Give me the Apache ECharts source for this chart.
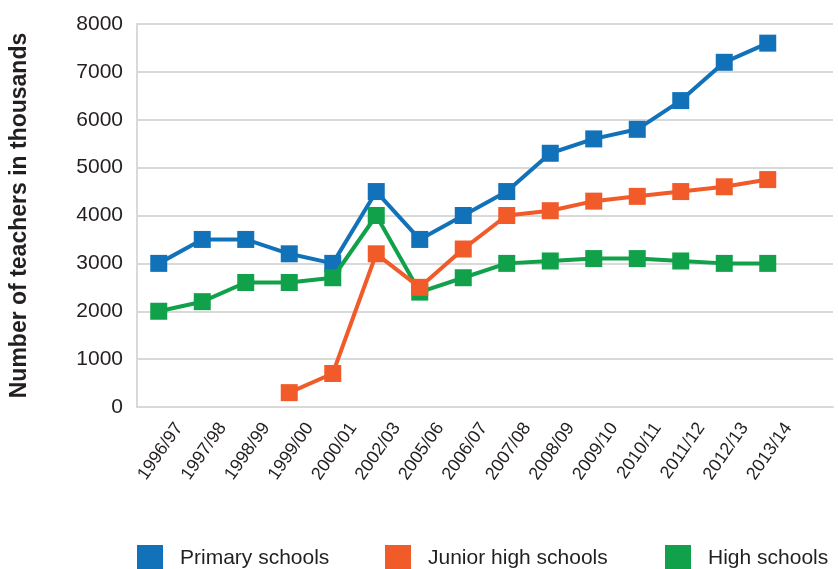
<!DOCTYPE html>
<html>
<head>
<meta charset="utf-8">
<script src="https://cdn.jsdelivr.net/npm/echarts@6/dist/echarts.min.js"></script>
<style>
  html, body { margin: 0; padding: 0; background: #fff; }
  #chart { width: 838px; height: 569px; }
</style>
</head>
<body>
<div id="chart"></div>
<script>
// School years on the category axis (last slot left empty for spacing)
const years = ['1996/97', '1997/98', '1998/99', '1999/00', '2000/01', '2002/03',
  '2005/06', '2006/07', '2007/08', '2008/09', '2009/10', '2010/11',
  '2011/12', '2012/13', '2013/14', ''];

// Teachers, in thousands
const primarySchools = [3000, 3500, 3500, 3200, 3000, 4500, 3500, 4000, 4500, 5300, 5600, 5800, 6400, 7200, 7600];
const juniorHighSchools = [null, null, null, 300, 700, 3200, 2500, 3300, 4000, 4100, 4300, 4400, 4500, 4600, 4750];
const highSchools = [2000, 2200, 2600, 2600, 2700, 4000, 2400, 2700, 3000, 3050, 3100, 3100, 3050, 3000, 3000];

const seriesNames = ['Primary schools', 'Junior high schools', 'High schools'];
const colors = { primary: '#1172BA', junior: '#F15A29', high: '#10A14A' };

const FONT = "'Liberation Sans', Arial, Helvetica, sans-serif";
const TEXT = '#231F20';
const GRID = '#D9D9D9';

function lineSeries(name, data, color, z) {
  return {
    name: name,
    type: 'line',
    data: data,
    z: z,
    color: color,
    symbol: 'rect',
    symbolSize: 17,
    connectNulls: false,
    lineStyle: { width: 4, color: color },
    itemStyle: { color: color },
    emphasis: { disabled: true },
    animation: false
  };
}

function legendAt(left, name) {
  return {
    left: left,
    top: 545,
    padding: 0,
    data: [name],
    itemWidth: 26,
    itemHeight: 26,
    icon: 'rect',
    textStyle: { fontFamily: FONT, fontSize: 21, color: TEXT, padding: [0, 0, 0, 12] }
  };
}

const chart = echarts.init(document.getElementById('chart'), null, { renderer: 'canvas' });
chart.setOption({
  backgroundColor: '#fff',
  animation: false,
  grid: { left: 135, right: 5, top: 24, bottom: 162, containLabel: false },
  legend: [
    legendAt(137, seriesNames[0]),
    legendAt(385, seriesNames[1]),
    legendAt(665, seriesNames[2])
  ],
  xAxis: {
    type: 'category',
    data: years,
    boundaryGap: true,
    axisLine: { show: true, lineStyle: { color: GRID, width: 2 } },
    axisTick: { show: false },
    axisLabel: {
      interval: 0,
      rotate: 55,
      margin: 12,
      fontFamily: FONT,
      fontSize: 18,
      color: TEXT,
      verticalAlign: 'top',
      padding: [11, -7, 0, 0]
    },
    splitLine: { show: false }
  },
  yAxis: {
    type: 'value',
    min: 0,
    max: 8000,
    interval: 1000,
    name: 'Number of teachers in thousands',
    nameLocation: 'middle',
    nameRotate: 90,
    nameGap: 106,
    nameTextStyle: { fontFamily: FONT, fontSize: 23, fontWeight: 'bold', color: TEXT },
    axisLine: { show: true, lineStyle: { color: GRID, width: 2 } },
    axisTick: { show: false },
    axisLabel: {
      margin: 14, fontFamily: FONT, fontSize: 21, color: TEXT,
      formatter: function (v) { return String(v); }
    },
    splitLine: { show: true, lineStyle: { color: GRID, width: 2 } }
  },
  series: [
    lineSeries(seriesNames[0], primarySchools, colors.primary, 2),
    lineSeries(seriesNames[2], highSchools, colors.high, 3),
    lineSeries(seriesNames[1], juniorHighSchools, colors.junior, 4)
  ]
});
</script>
</body>
</html>
